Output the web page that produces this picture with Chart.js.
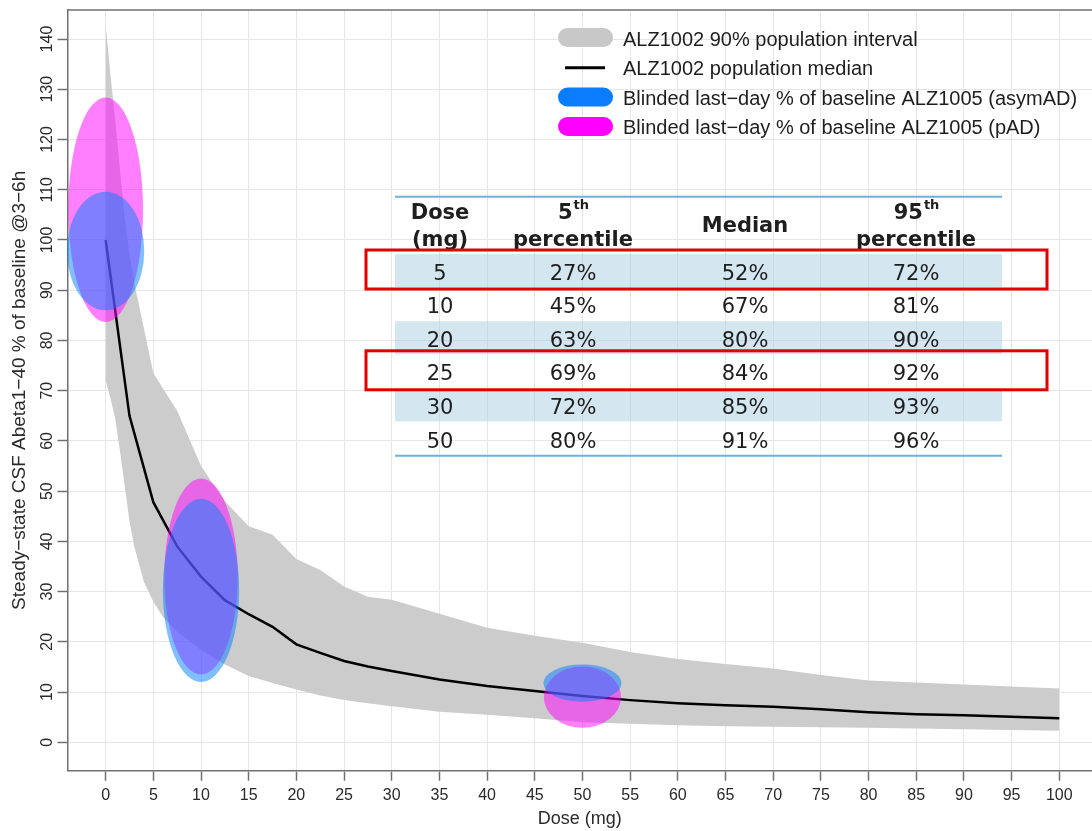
<!DOCTYPE html>
<html><head><meta charset="utf-8">
<script src="https://cdn.jsdelivr.net/npm/chart.js@4.4.0/dist/chart.umd.min.js"></script>
<style>html,body{margin:0;padding:0;background:#fff;overflow:hidden}#wrap{position:relative;width:1092px;height:831px}</style>
</head><body><div id="wrap"><canvas id="c"></canvas></div>
<script>
// ---- data ----
const bandDose  = [0,0.5,1,1.5,2,2.5,3,4,5,6,7.5,10,12.5,15,17.5,20,22.5,25,27.5,30,35,40,45,50,55,60,65,70,75,80,85,90,95,100];
const bandUpper = [143,133,124,114,104.5,97,91.5,82.5,73.5,70.5,66,55,48,43,41.3,36.5,34.3,31,29,28.4,25.6,22.8,21.2,19.8,18,16.6,15.6,14.7,13.4,12.3,11.9,11.5,11.1,10.7];
const bandLower = [72,68.5,64.5,58,51,44,39,32,28,25,22,18.4,15.5,13.2,11.8,10.5,9.3,8.4,7.8,7.2,6.1,5.5,4.8,4.0,3.7,3.4,3.2,3.1,3.0,2.9,2.75,2.6,2.45,2.3];
const medianDose  = [0,2.5,5,7.5,10,12.5,15,17.5,20,22.5,25,27.5,30,35,40,45,50,55,60,65,70,75,80,85,90,95,100];
const medianValue = [100,65,47.8,39,33,28.3,25.5,23,19.5,17.8,16.2,15.1,14.2,12.5,11.2,10.2,9.2,8.4,7.8,7.4,7.1,6.6,6.0,5.6,5.4,5.1,4.8];

const ellipseDose     = [0, 10, 50];
const asymCenter      = [97.8, 30.25, 11.8];
const asymHalfHeight  = [11.8, 18.25, 3.7];
const asymHalfWidth   = [4.05, 4.0, 4.1];
const padCenter       = [106, 33, 9.0];
const padHalfHeight   = [22.35, 19.5, 6.1];
const padHalfWidth    = [3.92, 3.85, 4.05];

const xTicksStep = 5;
const yTicksStep = 10;

const tableDose   = ['5','10','20','25','30','50'];
const tableP5     = ['27%','45%','63%','69%','72%','80%'];
const tableMedian = ['52%','67%','80%','84%','85%','91%'];
const tableP95    = ['72%','81%','90%','92%','93%','96%'];
const highlightedRows = [0, 3];

const legendLabels = ['ALZ1002 90% population interval','ALZ1002 population median',
  'Blinded last\u2212day % of baseline ALZ1005 (asymAD)','Blinded last\u2212day % of baseline ALZ1005 (pAD)'];

// ---- styles ----
const BAND = '#cccccc', PINK = 'rgba(255,0,255,0.5)', BLUE = 'rgba(0,128,255,0.5)';
const AXIS = '#707070', GRID = '#e6e6e6', TICKTXT = '#2a2a2a';
const AXFONT = '"Liberation Sans", Arial, sans-serif';

const overlay = {
  id: 'overlay',
  afterDatasetsDraw(chart) {
    const {ctx, scales: {x, y}} = chart;
    const ell = (cx, cy, hw, hh, color) => {
      const px = x.getPixelForValue(cx), py = y.getPixelForValue(cy);
      const rx = Math.abs(x.getPixelForValue(cx + hw) - px);
      const ry = Math.abs(y.getPixelForValue(cy + hh) - py);
      ctx.beginPath(); ctx.ellipse(px, py, rx, ry, 0, 0, Math.PI * 2);
      ctx.fillStyle = color; ctx.fill();
    };
    ctx.save();
    ellipseDose.forEach((d, i) => ell(d, padCenter[i], padHalfWidth[i], padHalfHeight[i], PINK));
    ellipseDose.forEach((d, i) => ell(d, asymCenter[i], asymHalfWidth[i], asymHalfHeight[i], BLUE));
    ctx.restore();
  },
  afterDraw(chart) {
    const {ctx, chartArea: ca} = chart;
    ctx.save();
    // top frame line
    ctx.strokeStyle = AXIS; ctx.lineWidth = 1.5;
    ctx.beginPath(); ctx.moveTo(ca.left, ca.top); ctx.lineTo(ca.right, ca.top); ctx.stroke();

    // ---- table ----
    const tL = 395, tR = 1002, colX = [440, 573, 745, 916];
    const row0 = 272, pitch = 33.6;
    ctx.fillStyle = 'rgba(170,205,225,0.5)';
    for (let i = 0; i < tableDose.length; i += 2) {
      const cy = row0 + i * pitch;
      ctx.fillRect(tL, cy - 18, tR - tL, 33);
    }
    ctx.strokeStyle = '#6fb0d8'; ctx.lineWidth = 2;
    ctx.beginPath(); ctx.moveTo(tL, 196.7); ctx.lineTo(tR, 196.7); ctx.stroke();
    ctx.beginPath(); ctx.moveTo(tL, 455.7); ctx.lineTo(tR, 455.7); ctx.stroke();

    const TF = '"DejaVu Sans", Verdana, sans-serif';
    ctx.fillStyle = '#1e1e1e'; ctx.textBaseline = 'alphabetic'; ctx.textAlign = 'center';
    ctx.font = 'bold 21px ' + TF;
    ctx.fillText('Dose', colX[0], 218.5);
    ctx.fillText('(mg)', colX[0], 245.5);
    ctx.fillText('Median', colX[2], 231.7);
    ctx.fillText('percentile', colX[1], 245.5);
    ctx.fillText('percentile', colX[3], 245.5);
    const sup = (base, s, cx) => {
      ctx.font = 'bold 21px ' + TF; const w1 = ctx.measureText(base).width;
      ctx.font = 'bold 13px ' + TF; const w2 = ctx.measureText(s).width;
      const x0 = cx - (w1 + w2) / 2;
      ctx.textAlign = 'left';
      ctx.font = 'bold 21px ' + TF; ctx.fillText(base, x0, 218.5);
      ctx.font = 'bold 13px ' + TF; ctx.fillText(s, x0 + w1 + 1, 209);
      ctx.textAlign = 'center';
    };
    sup('5', 'th', colX[1]);
    sup('95', 'th', colX[3]);

    ctx.font = '21px ' + TF;
    for (let i = 0; i < tableDose.length; i++) {
      const by = row0 + i * pitch + 7.6;
      ctx.fillText(tableDose[i], colX[0], by);
      ctx.fillText(tableP5[i], colX[1], by);
      ctx.fillText(tableMedian[i], colX[2], by);
      ctx.fillText(tableP95[i], colX[3], by);
    }
    ctx.strokeStyle = '#e00000'; ctx.lineWidth = 3;
    highlightedRows.forEach(i => {
      const cy = row0 + i * pitch;
      ctx.strokeRect(366, cy - 22, 681, 39);
    });

    // ---- legend ----
    const keyX = 558, keyW = 55, keyH = 19, txtX = 623;
    const base = [46, 75.3, 104.6, 133.9];
    const pill = (yc, color) => {
      ctx.beginPath(); ctx.roundRect(keyX, yc - keyH / 2, keyW, keyH, keyH / 2);
      ctx.fillStyle = color; ctx.fill();
    };
    pill(base[0] - 8.5, '#c8c8c8');
    ctx.strokeStyle = '#000'; ctx.lineWidth = 3;
    ctx.beginPath(); ctx.moveTo(565, base[1] - 7.6); ctx.lineTo(605, base[1] - 7.6); ctx.stroke();
    pill(base[2] - 7.5, '#0a7cff');
    pill(base[3] - 7.5, '#ff00ff');
    ctx.fillStyle = '#1e1e1e'; ctx.textAlign = 'left'; ctx.textBaseline = 'alphabetic';
    ctx.font = '20px ' + AXFONT;
    legendLabels.forEach((t, i) => ctx.fillText(t, txtX, base[i]));
    ctx.restore();
  }
};

const toPts = (xs, ys) => xs.map((v, i) => ({x: v, y: ys[i]}));

new Chart(document.getElementById('c'), {
  type: 'scatter',
  data: {
    datasets: [
      {label: legendLabels[1], data: toPts(medianDose, medianValue), showLine: true, borderColor: '#000', borderWidth: 2.5, pointRadius: 0, fill: false, tension: 0},
      {label: legendLabels[0], data: toPts(bandDose, bandUpper), showLine: true, borderColor: 'rgba(0,0,0,0)', borderWidth: 0, pointRadius: 0, fill: '+1', backgroundColor: BAND, tension: 0},
      {label: 'lower', data: toPts(bandDose, bandLower), showLine: true, borderColor: 'rgba(0,0,0,0)', borderWidth: 0, pointRadius: 0, fill: false, tension: 0}
    ]
  },
  options: {
    responsive: true, maintainAspectRatio: false, animation: false,
    layout: {padding: {top: 10, right: 0, left: 0, bottom: 0}},
    plugins: {legend: {display: false}, tooltip: {enabled: false}},
    scales: {
      x: {
        type: 'linear', min: -4, max: 103.43,
        afterFit: s => { s.height = 60.3; },
        border: {display: true, color: AXIS, width: 1.5},
        grid: {color: GRID, lineWidth: 1, tickColor: AXIS, tickLength: 10, tickWidth: 1.5},
        ticks: {stepSize: xTicksStep, includeBounds: false, color: TICKTXT, font: {family: AXFONT, size: 16}, padding: 5, maxRotation: 0, autoSkip: false},
        title: {display: true, text: 'Dose (mg)', color: TICKTXT, font: {family: AXFONT, size: 18}, padding: {top: 0, bottom: 1}}
      },
      y: {
        type: 'linear', min: -5.65, max: 145.78,
        afterFit: s => { s.width = 67.5; },
        border: {display: true, color: AXIS, width: 1.5},
        grid: {color: GRID, lineWidth: 1, tickColor: AXIS, tickLength: 10, tickWidth: 1.5},
        ticks: {stepSize: yTicksStep, includeBounds: false, color: TICKTXT, font: {family: AXFONT, size: 16}, padding: -3, minRotation: 90, maxRotation: 90, crossAlign: 'center', autoSkip: false},
        title: {display: true, text: 'Steady\u2212state CSF Abeta1\u221240 % of baseline @3\u22126h', color: TICKTXT, font: {family: AXFONT, size: 19}, padding: {top: 8, bottom: 0}}
      }
    }
  },
  plugins: [overlay]
});
</script>
</body></html>
